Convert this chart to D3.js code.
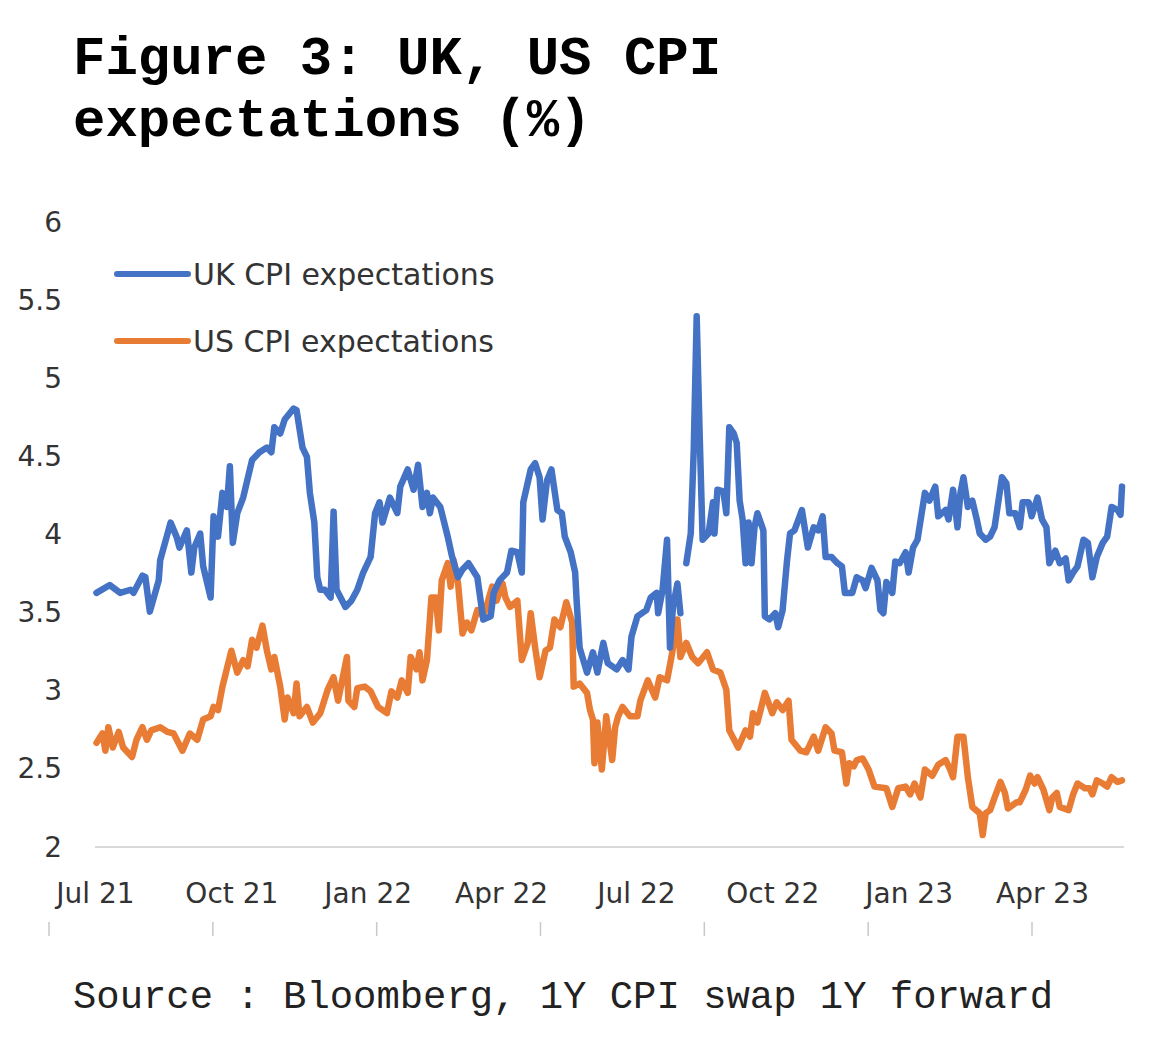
<!DOCTYPE html>
<html><head><meta charset="utf-8">
<script src="https://cdn.jsdelivr.net/npm/d3@7"></script>
<style>body{margin:0;background:#fff;} svg{display:block}</style>
</head><body><svg id="c" width="1169" height="1039"></svg>
<script>
const titleLines = ["Figure 3: UK, US CPI", "expectations (%)"];
const sourceText = "Source : Bloomberg, 1Y CPI swap 1Y forward";
const startDate = "2021-07-01";
const endDay = 693;
const seriesNames = ["UK CPI expectations", "US CPI expectations"];
const seriesColors = ["#4472C4", "#E97C35"];
const yTicks = [2, 2.5, 3, 3.5, 4, 4.5, 5, 5.5, 6];
const xTickDates = ["2021-07-01","2021-10-01","2022-01-01","2022-04-01","2022-07-01","2022-10-01","2023-01-01","2023-04-01"];
const lowerTickCount = 7;

// days since startDate
const ukDays = [1,10,17,24,26,32,34,37,43,44,51,55,57,62,65,67,71,73,78,80,83,86,89,91,93,96,100,106,111,116,119,121,125,128,134,136,140,143,145,148,150,152,155,159,161,163,169,173,177,181,186,189,192,194,199,204,206,211,215,218,221,224,226,228,233,238,241,245,248,252,258,262,267,269,273,278,281,285,288,289,294,297,300,302,305,308,312,315,317,321,324,325,327,332,336,339,343,346,352,356,360,362,366,372,375,379,380,383,386,388,390,393,395,397,399,402,404,406,408,410,414,417,418,420,424,426,428,431,433,435,437,439,441,443,445,447,451,452,455,459,461,464,467,469,472,477,481,485,488,491,493,497,501,504,506,511,514,518,520,524,528,530,532,534,538,540,543,547,549,552,555,560,563,567,569,574,576,579,582,584,586,589,592,595,597,601,604,607,612,615,617,621,624,626,630,632,636,639,642,644,648,651,655,657,660,663,667,670,673,676,680,683,686,690,692,693];
const ukValues = [3.62,3.67,3.62,3.64,3.62,3.73,3.72,3.50,3.70,3.83,4.07,3.98,3.91,4.02,3.75,3.91,4.00,3.79,3.59,4.11,3.98,4.26,4.17,4.43,3.94,4.13,4.23,4.47,4.52,4.55,4.52,4.68,4.64,4.73,4.80,4.79,4.55,4.49,4.26,4.07,3.72,3.64,3.64,3.59,4.14,3.64,3.53,3.57,3.64,3.75,3.85,4.13,4.20,4.07,4.23,4.13,4.30,4.41,4.28,4.44,4.17,4.26,4.13,4.23,4.17,3.98,3.85,3.72,3.77,3.81,3.72,3.45,3.47,3.62,3.70,3.75,3.89,3.88,3.75,4.20,4.41,4.45,4.36,4.09,4.34,4.41,4.15,4.13,3.98,3.88,3.75,3.57,3.27,3.11,3.24,3.11,3.30,3.17,3.13,3.19,3.13,3.34,3.47,3.51,3.59,3.62,3.49,3.64,3.96,3.27,3.53,3.68,3.49,null,3.81,4.00,4.53,5.39,4.64,3.96,4.00,4.20,4.00,4.28,4.27,4.13,4.68,4.64,4.58,4.21,4.09,3.81,4.07,3.81,4.04,4.13,4.02,3.47,3.45,3.49,3.40,3.51,3.83,4.00,4.02,4.15,3.91,4.04,4.02,4.11,3.85,3.85,3.81,3.79,3.62,3.62,3.72,3.70,3.65,3.78,3.70,3.51,3.49,3.69,3.62,3.82,3.81,3.88,3.75,3.91,3.96,4.26,4.21,4.30,4.11,4.15,4.09,4.28,4.04,4.26,4.36,4.17,4.21,4.09,4.00,3.96,3.98,4.04,4.36,4.32,4.13,4.13,4.04,4.20,4.20,4.11,4.23,4.09,4.04,3.81,3.89,3.81,3.84,3.70,3.75,3.79,3.96,3.94,3.72,3.85,3.94,3.98,4.17,4.15,4.12,4.30];

const usDays = [1,5,7,9,12,16,19,25,28,32,35,38,44,49,53,59,64,69,73,78,80,83,86,92,96,100,103,106,109,113,116,119,121,125,128,130,134,136,138,143,147,152,157,161,164,170,171,175,177,182,186,191,197,200,204,207,211,213,217,219,221,224,227,230,232,234,238,240,242,245,248,251,254,258,262,265,268,271,275,277,280,285,288,292,294,297,300,304,307,310,314,318,322,323,327,332,334,336,337,339,342,345,349,351,353,356,361,366,368,373,378,381,386,389,393,395,399,403,407,413,417,422,426,428,434,439,442,444,447,452,457,460,464,468,470,476,480,485,488,493,497,499,504,507,509,512,514,518,522,526,534,538,542,547,550,553,557,560,565,569,574,577,579,582,586,589,592,597,599,601,604,607,611,614,616,622,624,628,631,634,636,640,644,646,649,651,657,660,663,668,671,673,676,680,683,686,690,693];
const usValues = [2.66,2.72,2.61,2.76,2.63,2.73,2.63,2.57,2.68,2.76,2.68,2.74,2.76,2.73,2.72,2.61,2.72,2.68,2.81,2.83,2.89,2.87,3.02,3.25,3.11,3.19,3.15,3.32,3.27,3.41,3.25,3.13,3.21,3.02,2.81,2.95,2.85,3.04,2.83,2.89,2.79,2.85,3.00,3.08,2.93,3.21,2.93,2.89,3.01,3.02,2.99,2.89,2.85,2.99,2.95,3.06,2.98,3.21,3.13,3.24,3.06,3.19,3.59,3.59,3.38,3.70,3.81,3.66,3.83,3.68,3.36,3.43,3.38,3.51,3.47,3.56,3.66,3.57,3.68,3.59,3.53,3.57,3.19,3.30,3.49,3.27,3.08,3.25,3.27,3.45,3.40,3.56,3.43,3.02,3.04,2.98,2.87,2.81,2.53,2.79,2.49,2.83,2.55,2.76,2.83,2.89,2.83,2.83,2.93,3.06,2.95,3.08,3.06,3.21,3.45,3.21,3.30,3.21,3.17,3.24,3.13,3.11,3.00,2.74,2.63,2.74,2.70,2.85,2.79,2.98,2.85,2.92,2.87,2.93,2.68,2.61,2.60,2.70,2.61,2.76,2.72,2.61,2.60,2.40,2.53,2.51,2.55,2.56,2.49,2.38,2.37,2.25,2.37,2.38,2.33,2.40,2.31,2.49,2.45,2.52,2.55,2.49,2.44,2.70,2.70,2.44,2.25,2.21,2.07,2.21,2.23,2.31,2.41,2.34,2.24,2.28,2.28,2.36,2.45,2.40,2.44,2.36,2.23,2.31,2.34,2.25,2.23,2.33,2.40,2.37,2.37,2.33,2.42,2.40,2.38,2.44,2.41,2.42];

const svg = d3.select("#c");
const parse = d3.utcParse("%Y-%m-%d");
const t0 = parse(startDate);
const toDate = d => d3.utcDay.offset(t0, d);

const x = d3.scaleUtc().domain([t0, toDate(endDay)]).range([95, 1122]);
const y = d3.scaleLinear().domain([2, 6]).range([846, 221]);

// Title
svg.append("g").selectAll("text").data(titleLines).join("text")
  .attr("x", 73).attr("y", (d, i) => 74 + i * 62)
  .attr("font-family", "'Liberation Mono', 'Courier New', monospace")
  .attr("font-weight", "bold").attr("font-size", 54).attr("fill", "#000")
  .style("white-space", "pre").text(d => d);

// Source
svg.append("text").attr("x", 73).attr("y", 1008)
  .attr("font-family", "'Liberation Mono', 'Courier New', monospace")
  .attr("font-size", 38.9).attr("fill", "#222")
  .style("white-space", "pre").text(sourceText);

const labelFont = "'DejaVu Sans', Verdana, sans-serif";

// Y axis labels
const yAxis = svg.append("g").attr("transform", "translate(62,0)")
  .call(d3.axisLeft(y).tickValues(yTicks).tickFormat(d => String(d)).tickSize(0).tickPadding(0));
yAxis.select(".domain").remove();
yAxis.selectAll("text").attr("font-family", labelFont).attr("font-size", 28).attr("fill", "#333").attr("dy", "0.36em");

// Bottom axis line
svg.append("line").attr("x1", x.range()[0]).attr("x2", x.range()[1] + 2)
  .attr("y1", y(2) + 1).attr("y2", y(2) + 1).attr("stroke", "#d9d9d9").attr("stroke-width", 2);

// X axis labels
const xAxis = svg.append("g").attr("transform", `translate(0,${y(2) + 57})`)
  .call(d3.axisBottom(x).tickValues(xTickDates.map(parse)).tickFormat(d3.utcFormat("%b %y")).tickSize(0).tickPadding(0));
xAxis.select(".domain").remove();
xAxis.selectAll("text").attr("font-family", labelFont).attr("font-size", 28).attr("fill", "#333").attr("dy", 0);

// Lower tick marks
const lt = d3.scaleLinear().domain([0, lowerTickCount - 1]).range([49, 1032]);
svg.append("g").selectAll("line").data(d3.range(lowerTickCount)).join("line")
  .attr("x1", d => lt(d)).attr("x2", d => lt(d)).attr("y1", 922).attr("y2", 936)
  .attr("stroke", "#c8c8c8").attr("stroke-width", 1.5);

// Lines
const line = d3.line().defined(d => d.v != null).x(d => x(d.t)).y(d => y(d.v)).curve(d3.curveLinear);
const series = [
  ukDays.map((d, i) => ({ t: toDate(d), v: ukValues[i] })),
  usDays.map((d, i) => ({ t: toDate(d), v: usValues[i] }))
];
svg.append("g").selectAll("path").data([series[1], series[0]]).join("path")
  .attr("d", line).attr("fill", "none")
  .attr("stroke", (d, i) => seriesColors[1 - i]).attr("stroke-width", 6.5)
  .attr("stroke-linejoin", "round").attr("stroke-linecap", "round");

// Legend
const lg = svg.append("g").selectAll("g").data(seriesNames).join("g")
  .attr("transform", (d, i) => `translate(117,${274 + i * 67})`);
lg.append("line").attr("x1", 0).attr("x2", 71).attr("y1", 0).attr("y2", 0)
  .attr("stroke", (d, i) => seriesColors[i]).attr("stroke-width", 6).attr("stroke-linecap", "round");
lg.append("text").attr("x", 76).attr("y", 0).attr("dy", "0.36em")
  .attr("font-family", labelFont).attr("font-size", 30).attr("fill", "#333")
  .text(d => d);
</script></body></html>
